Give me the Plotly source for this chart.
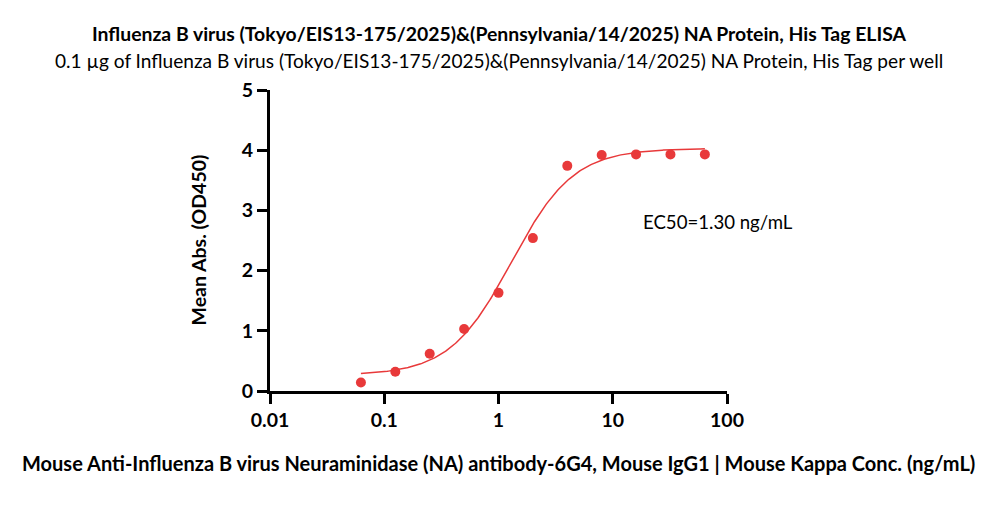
import numpy as np
import plotly.graph_objects as go

# Data
conc = [0.0625, 0.125, 0.25, 0.5, 1, 2, 4, 8, 16, 32, 64]
od450 = [0.14, 0.32, 0.62, 1.03, 1.63, 2.54, 3.74, 3.92, 3.93, 3.93, 3.93]

# 4PL fit parameters (estimated from the drawn curve)
fit_bottom = 0.26
fit_top = 4.03
fit_ec50 = 1.30
fit_hill = 1.6

x_ticks = [0.01, 0.1, 1, 10, 100]
x_tick_labels = ["0.01", "0.1", "1", "10", "100"]
y_ticks = [0, 1, 2, 3, 4, 5]

title = "Influenza B virus (Tokyo/EIS13-175/2025)&(Pennsylvania/14/2025) NA Protein, His Tag ELISA"
subtitle = "0.1 µg of Influenza B virus (Tokyo/EIS13-175/2025)&(Pennsylvania/14/2025) NA Protein, His Tag per well"
x_title = "Mouse Anti-Influenza B virus Neuraminidase (NA) antibody-6G4, Mouse IgG1 | Mouse Kappa Conc. (ng/mL)"
y_title = "Mean Abs. (OD450)"
ec50_text = "EC50=1.30 ng/mL"

red = "#E8393A"
FONT = "Lato, 'Open Sans', sans-serif"

xf = np.logspace(np.log10(conc[0]), np.log10(conc[-1]), 300)
yf = fit_bottom + (fit_top - fit_bottom) / (1 + (fit_ec50 / xf) ** fit_hill)

fig = go.Figure()
fig.add_trace(go.Scatter(x=xf, y=yf, mode="lines",
                         line=dict(color=red, width=1.5), showlegend=False, hoverinfo="skip"))
fig.add_trace(go.Scatter(x=conc, y=od450, mode="markers",
                         marker=dict(color=red, size=10), showlegend=False))

fig.update_layout(
    width=1000, height=520,
    margin=dict(l=270, r=273, t=90, b=129),
    paper_bgcolor="white", plot_bgcolor="white",
    font=dict(family=FONT, color="black"),
    xaxis=dict(type="log", range=[-2, 2], tickvals=x_ticks, ticktext=x_tick_labels,
               showgrid=False, zeroline=False, showline=True, linecolor="black", linewidth=3,
               ticks="outside", ticklen=10, tickwidth=3, tickcolor="black",
               tickfont=dict(family=FONT, size=19.5, color="black", weight="bold")),
    yaxis=dict(range=[0, 5], tickvals=y_ticks,
               showgrid=False, zeroline=False, showline=True, linecolor="black", linewidth=3,
               ticks="outside", ticklen=10, tickwidth=3, tickcolor="black",
               tickfont=dict(family=FONT, size=19.5, color="black", weight="bold")),
)

fig.add_annotation(text="<b>" + title + "</b>", xref="paper", yref="paper", x=0.5, y=1,
                   yshift=57, xanchor="center", yanchor="middle", showarrow=False,
                   font=dict(family=FONT, size=19.4, color="black"))
fig.add_annotation(text=subtitle, xref="paper", yref="paper", x=0.5, y=1,
                   yshift=30, xanchor="center", yanchor="middle", showarrow=False,
                   font=dict(family=FONT, size=19.1, color="black"))
fig.add_annotation(text="<b>" + x_title + "</b>", xref="paper", yref="paper", x=0.5, y=0,
                   yshift=-72, xanchor="center", yanchor="middle", showarrow=False,
                   font=dict(family=FONT, size=20, color="black"))
fig.add_annotation(text="<b>" + y_title + "</b>", xref="paper", yref="paper", x=0, y=0.5,
                   xshift=-72, xanchor="center", yanchor="middle", showarrow=False, textangle=-90,
                   font=dict(family=FONT, size=19.5, color="black"))
fig.add_annotation(text=ec50_text, xref="x", yref="y", x=np.log10(17.5), y=2.81,
                   xanchor="left", yanchor="middle", showarrow=False,
                   font=dict(family=FONT, size=18.6, color="black"))

fig.write_html("out.html")
